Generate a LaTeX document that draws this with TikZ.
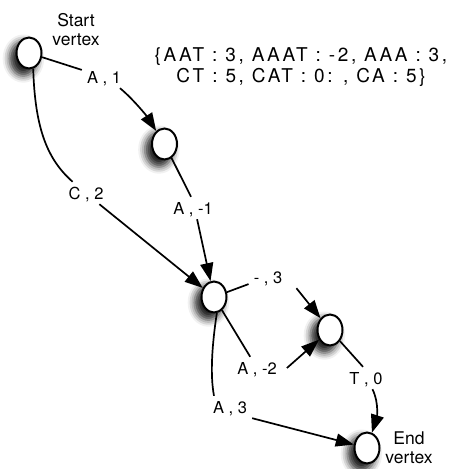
\documentclass[tikz,border=0pt]{standalone}
\usepackage{fontspec}
\setmainfont{TeX Gyre Heros}
\newfontfamily\trackedfont[LetterSpace=14]{TeX Gyre Heros}
\usetikzlibrary{arrows.meta,shapes.geometric,shadows.blur}
\begin{document}
\begin{tikzpicture}[x=1pt,y=-1pt,
  vtx/.style={ellipse,draw,line width=2pt,fill=white,minimum width=25pt,minimum height=31pt,inner sep=0pt,
    blur shadow={shadow xshift=-5pt,shadow yshift=-5pt,shadow blur radius=6pt,shadow opacity=85,shadow scale=1.12}},
  lbl/.style={font=\fontsize{16.5}{19}\selectfont,inner xsep=5pt,inner ysep=5pt,text height=12pt,text depth=0pt},
  vlabel/.style={font=\fontsize{17.5}{19}\selectfont,align=center},
  link/.style={line width=1.7pt},
  arrowline/.style={link,-{Triangle[length=18pt,width=13pt]}}]
\useasboundingbox (0,0) rectangle (454,469);
% vertices
\node[vtx] (s) at (29,53) {};
\node[vtx] (n2) at (164.5,144) {};
\node[vtx] (n3) at (214,297) {};
\node[vtx] (n4) at (330,330) {};
\node[vtx] (e) at (367,448) {};
% edge labels
\node[lbl] (l1) at (104,77) {A , 1};
\node[lbl] (l2) at (86,193) {C , 2};
\node[lbl] (l3) at (193,208) {A , -1};
\node[lbl] (l4) at (268,277) {- , 3};
\node[lbl] (l5) at (257,368) {A , -2};
\node[lbl] (l6) at (366,378) {T , 0};
\node[lbl] (l7) at (230,407) {A , 3};
% captions
\node[vlabel] (st) at (76,30) {Start\\vertex};
\node[vlabel] (en) at (409,448) {End\\vertex};
\node[font=\trackedfont\fontsize{19}{20.5}\selectfont,align=center] (set) at (301,67)
  {\{AAT : 3, AAAT : -2, AAA : 3,\\CT : 5, CAT : 0: , CA : 5\}};
% edges
\draw[link] (s) -- (l1);
\draw[arrowline] (l1.-35) .. controls (132,98) and (146,115) .. (n2);
\draw[link] (s.-75) .. controls (35,130) and (48,160) .. (l2.140);
\draw[arrowline] (l2.-40) -- (n3);
\draw[link] (n2) -- (l3.100);
\draw[arrowline] (l3.-70) -- (n3);
\draw[link] (n3) -- (l4.200);
\draw[arrowline] ([xshift=9pt]l4.south east) -- (n4);
\draw[link] (n3) -- (l5);
\draw[arrowline] ([xshift=5pt]l5.east) -- (n4);
\draw[link] (n4) -- (l6.105);
\draw[arrowline] (l6.-60) .. controls (380,405) and (376,420) .. (e);
\draw[link] (n3.-80) .. controls (212,345) and (210,375) .. (l7.145);
\draw[arrowline] (l7.south east) -- (e);
\end{tikzpicture}
\end{document}
